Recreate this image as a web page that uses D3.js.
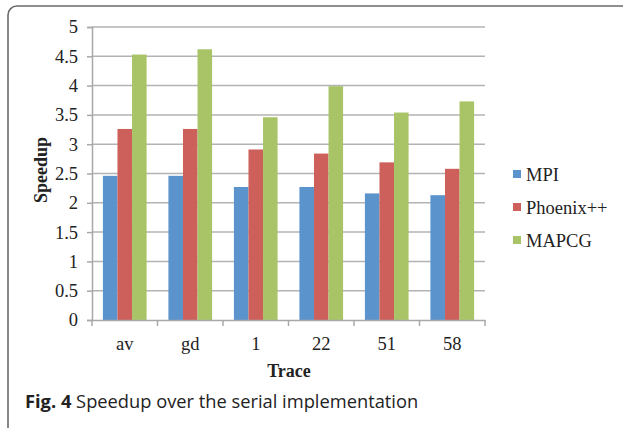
<!DOCTYPE html>
<html><head><meta charset="utf-8">
<script src="https://cdn.jsdelivr.net/npm/d3@7"></script>
<style>body{margin:0;background:#fff}svg{display:block}</style>
</head><body>
<svg id="c" width="623" height="428"></svg>
<script>
const categories = ["av","gd","1","22","51","58"];
const seriesNames = ["MPI","Phoenix++","MAPCG"];
const mpi = [2.46,2.46,2.27,2.27,2.16,2.13];
const phoenix = [3.26,3.26,2.91,2.84,2.69,2.58];
const mapcg = [4.53,4.62,3.46,3.99,3.54,3.73];
const yTicks = [0,0.5,1,1.5,2,2.5,3,3.5,4,4.5,5];
const colors = ["#5b93cc","#cd605a","#a9c467"];

const svg = d3.select("#c");
const serif = "'Liberation Serif','Times New Roman',serif";
// frame
svg.append("rect").attr("x",8).attr("y",6).attr("width",640).attr("height",440)
  .attr("rx",9).attr("fill","none").attr("stroke","#6a6a6a").attr("stroke-width",1.6);

const L=92,R=485,T=27,B=320;
const x0 = d3.scaleBand().domain(categories).range([L,R]).paddingInner(0).paddingOuter(0);
const y = d3.scaleLinear().domain([0,5]).range([B,T]);
const bw = x0.bandwidth()/4.5;
const x1 = d3.scaleBand().domain(seriesNames).range([0,bw*3]);

// gridlines
svg.append("g").selectAll("line").data(yTicks.filter(d=>d>0)).join("line")
  .attr("x1",L).attr("x2",R).attr("y1",d=>y(d)).attr("y2",d=>y(d))
  .attr("stroke","#b3b3b3").attr("stroke-width",1.5);

// y axis
const ya = svg.append("g").attr("transform",`translate(${L},0)`)
  .call(d3.axisLeft(y).tickValues(yTicks).tickFormat(d=>String(d)).tickSize(5).tickPadding(9));
ya.select(".domain").attr("stroke","#a8a8a8").attr("stroke-width",1.5);
ya.selectAll(".tick line").attr("stroke","#a8a8a8").attr("stroke-width",1.5);
ya.selectAll("text").attr("font-family",serif).attr("font-size",18.5).attr("fill","#222");

// bars
const data = [mpi,phoenix,mapcg];
categories.forEach((c,i)=>{
  const g = svg.append("g").attr("transform",`translate(${x0(c)+ (x0.bandwidth()-bw*3)/2},0)`);
  g.selectAll("rect").data(seriesNames).join("rect")
    .attr("x",s=>x1(s)).attr("width",x1.bandwidth())
    .attr("y",(s,j)=>y(data[j][i])).attr("height",(s,j)=>B-y(data[j][i]))
    .attr("fill",(s,j)=>colors[j]);
});

// x axis
const xa = svg.append("g").attr("transform",`translate(0,${B})`)
  .call(d3.axisBottom(x0).tickSize(0).tickPadding(17));
xa.select(".domain").attr("stroke","#a8a8a8").attr("stroke-width",1.5);
xa.selectAll("text").attr("font-family",serif).attr("font-size",18.5).attr("fill","#222");
// boundary ticks
const bounds = categories.map(c=>x0(c)).concat([R]);
svg.append("g").selectAll("line").data(bounds).join("line")
  .attr("x1",d=>d).attr("x2",d=>d).attr("y1",B).attr("y2",B+6)
  .attr("stroke","#a8a8a8").attr("stroke-width",1.5);

// axis titles
svg.append("text").attr("transform","translate(47,170) rotate(-90)").attr("text-anchor","middle")
  .attr("font-family",serif).attr("font-weight","bold").attr("font-size",18).attr("fill","#222").text("Speedup");
svg.append("text").attr("x",289).attr("y",377).attr("text-anchor","middle")
  .attr("font-family",serif).attr("font-weight","bold").attr("font-size",18).attr("fill","#222").text("Trace");

// legend
const lg = svg.append("g");
seriesNames.forEach((s,i)=>{
  const yy = 181 + i*33;
  lg.append("rect").attr("x",513).attr("y",yy-11).attr("width",8).attr("height",8).attr("fill",colors[i]);
  lg.append("text").attr("x",526).attr("y",yy).attr("font-family",serif).attr("font-size",18.5).attr("fill","#222").text(s);
});

// caption
const cap = svg.append("text").attr("x",25).attr("y",408).attr("font-family","'Open Sans','Noto Sans',sans-serif").attr("font-size",18.3).attr("fill","#222");
cap.append("tspan").attr("font-weight","bold").text("Fig. 4");
cap.append("tspan").text(" Speedup over the serial implementation");
</script>
</body></html>
